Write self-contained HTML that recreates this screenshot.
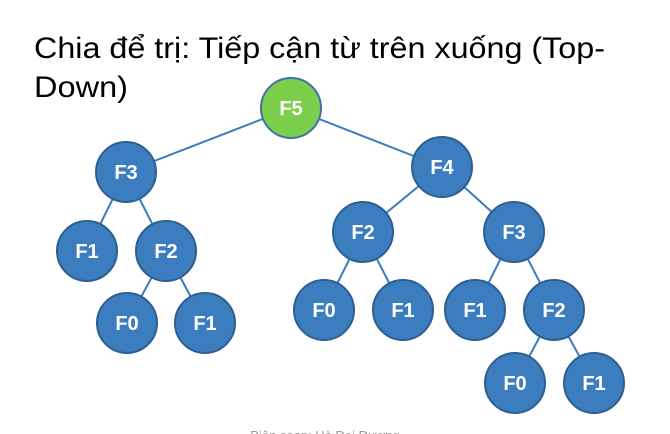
<!DOCTYPE html>
<html><head><meta charset="utf-8"><style>
html,body{margin:0;padding:0;background:#fff;width:670px;height:434px;overflow:hidden}
</style></head><body>
<svg width="670" height="434" xmlns="http://www.w3.org/2000/svg" style="position:absolute;left:0;top:0">
<g font-family="Liberation Sans, DejaVu Sans, sans-serif">
<text x="34" y="58" font-size="30" fill="#000" textLength="571" lengthAdjust="spacingAndGlyphs">Chia để trị: Tiếp cận từ trên xuống (Top-</text>
<text x="34" y="97" font-size="30" fill="#000" textLength="94" lengthAdjust="spacingAndGlyphs">Down)</text>
</g>
<g stroke="#3a7cc0" stroke-width="2">
<line x1="291" y1="108" x2="126" y2="172"/>
<line x1="291" y1="108" x2="442" y2="167"/>
<line x1="126" y1="172" x2="87" y2="251"/>
<line x1="126" y1="172" x2="166" y2="251"/>
<line x1="166" y1="251" x2="127" y2="323"/>
<line x1="166" y1="251" x2="205" y2="323"/>
<line x1="442" y1="167" x2="363" y2="232"/>
<line x1="442" y1="167" x2="514" y2="232"/>
<line x1="363" y1="232" x2="324" y2="310"/>
<line x1="363" y1="232" x2="403" y2="310"/>
<line x1="514" y1="232" x2="475" y2="310"/>
<line x1="514" y1="232" x2="554" y2="310"/>
<line x1="554" y1="310" x2="515" y2="383"/>
<line x1="554" y1="310" x2="594" y2="383"/>
</g>
<g stroke="#2d5f91" stroke-width="2" fill="#3b7dbf">
<circle cx="291" cy="108" r="30" fill="#7ccf4b" stroke="#3d72a8"/>
<circle cx="126" cy="172" r="30"/>
<circle cx="442" cy="167" r="30"/>
<circle cx="87" cy="251" r="30"/>
<circle cx="166" cy="251" r="30"/>
<circle cx="127" cy="323" r="30"/>
<circle cx="205" cy="323" r="30"/>
<circle cx="363" cy="232" r="30"/>
<circle cx="514" cy="232" r="30"/>
<circle cx="324" cy="310" r="30"/>
<circle cx="403" cy="310" r="30"/>
<circle cx="475" cy="310" r="30"/>
<circle cx="554" cy="310" r="30"/>
<circle cx="515" cy="383" r="30"/>
<circle cx="594" cy="383" r="30"/>
</g>
<g font-family="Liberation Sans, sans-serif" font-weight="bold" font-size="20" fill="#fff" text-anchor="middle">
<text x="291" y="115">F5</text>
<text x="126" y="179">F3</text>
<text x="442" y="174">F4</text>
<text x="87" y="258">F1</text>
<text x="166" y="258">F2</text>
<text x="127" y="330">F0</text>
<text x="205" y="330">F1</text>
<text x="363" y="239">F2</text>
<text x="514" y="239">F3</text>
<text x="324" y="317">F0</text>
<text x="403" y="317">F1</text>
<text x="475" y="317">F1</text>
<text x="554" y="317">F2</text>
<text x="515" y="390">F0</text>
<text x="594" y="390">F1</text>
</g>
<text x="325" y="440" font-family="Liberation Sans, sans-serif" font-size="13" fill="#999" text-anchor="middle">Biên soạn: Hà Đại Dương</text>
</svg>
</body></html>
